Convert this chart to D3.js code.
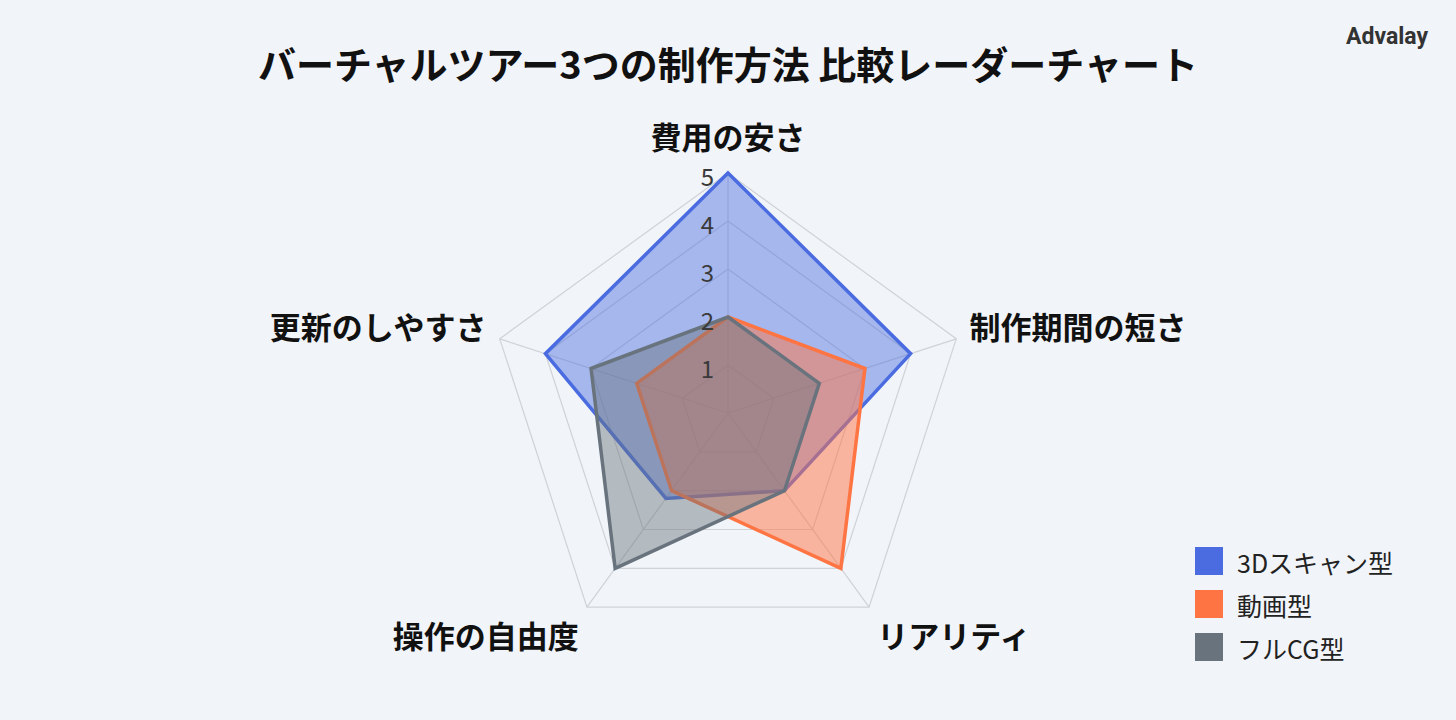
<!DOCTYPE html>
<html>
<head>
<meta charset="utf-8">
<script src="https://cdn.jsdelivr.net/npm/d3@7"></script>
<style>
  html, body { margin: 0; padding: 0; background: #f1f4f8; }
  svg { display: block; font-family: "Noto Sans CJK JP", "Noto Sans", sans-serif; }
</style>
</head>
<body>
<svg id="chart" width="1456" height="720"></svg>
<script>
// chart data
const axes = ["費用の安さ", "制作期間の短さ", "リアリティ", "操作の自由度", "更新のしやすさ"];
const seriesNames = ["3Dスキャン型", "動画型", "フルCG型"];
const scanValues = [5, 4, 2, 2.2, 4];
const videoValues = [2, 3, 4, 2, 2];
const cgValues = [2, 2, 2, 4, 3];
const tickValues = [1, 2, 3, 4, 5];

const series = [
  {name: seriesNames[0], values: scanValues, color: "#4a6ce0", fill: 0.45},
  {name: seriesNames[1], values: videoValues, color: "#ff7443", fill: 0.5},
  {name: seriesNames[2], values: cgValues, color: "#68737d", fill: 0.45}
];

let svg = d3.select("#chart");
let cx = 728, cy = 413, R = 240;

let r = d3.scaleLinear().domain([0, 5]).range([0, R]);
let angle = d3.scalePoint().domain(axes).range([0, 2 * Math.PI * 4 / 5]);

function pt(a, rad) {
  return [Math.sin(a) * rad, -Math.cos(a) * rad];
}

svg.append("text")
    .attr("x", cx).attr("y", 62)
    .attr("text-anchor", "middle")
    .attr("dominant-baseline", "central")
    .attr("font-size", 38).attr("font-weight", 700)
    .attr("fill", "#111")
    .text("バーチャルツアー3つの制作方法 比較レーダーチャート");

svg.append("text")
    .attr("x", 1428).attr("y", 36)
    .attr("text-anchor", "end")
    .attr("dominant-baseline", "central")
    .attr("font-family", "Roboto, 'Noto Sans', sans-serif")
    .attr("font-size", 23).attr("font-weight", 700)
    .attr("fill", "#333")
    .text("Advalay");

let g = svg.append("g").attr("transform", "translate(" + cx + "," + cy + ")");

// grid pentagons
g.selectAll(".grid")
  .data(tickValues)
  .enter().append("polygon")
    .attr("points", d => axes.map(a => pt(angle(a), r(d)).join(",")).join(" "))
    .attr("fill", "none")
    .attr("stroke", "#cfd2d6")
    .attr("stroke-width", 1.2);

// spokes
g.selectAll(".spoke")
  .data(axes)
  .enter().append("line")
    .attr("x2", d => pt(angle(d), r(5))[0])
    .attr("y2", d => pt(angle(d), r(5))[1])
    .attr("stroke", "#cfd2d6")
    .attr("stroke-width", 1.2);

// series polygons
let line = d3.lineRadial()
    .angle((d, i) => angle(axes[i]))
    .radius(d => r(d))
    .curve(d3.curveLinearClosed);

g.selectAll(".area")
  .data(series)
  .enter().append("path")
    .attr("d", d => line(d.values))
    .attr("fill", d => d.color)
    .attr("fill-opacity", d => d.fill)
    .attr("stroke", d => d.color)
    .attr("stroke-width", 3.5)
    .attr("stroke-linejoin", "miter");

// tick labels
g.selectAll(".tick")
  .data(tickValues)
  .enter().append("text")
    .attr("x", -14)
    .attr("y", d => -r(d) + 2)
    .attr("text-anchor", "end")
    .attr("dominant-baseline", "central")
    .attr("font-size", 24)
    .attr("fill", "#3a3a3a")
    .text(d => d);

// axis labels
g.selectAll(".axis-label")
  .data(axes)
  .enter().append("text")
    .attr("x", d => pt(angle(d), R + 14)[0])
    .attr("y", d => pt(angle(d), R + 14)[1] - Math.cos(angle(d)) * 22 - 2)
    .attr("text-anchor", d => {
      let s = Math.sin(angle(d));
      return Math.abs(s) < 0.1 ? "middle" : (s > 0 ? "start" : "end");
    })
    .attr("dominant-baseline", "central")
    .attr("font-size", 31).attr("font-weight", 700)
    .attr("fill", "#111")
    .text(d => d);

// legend
let legend = svg.append("g").attr("transform", "translate(1195,547)");
let row = legend.selectAll(".row")
  .data(series)
  .enter().append("g")
    .attr("transform", (d, i) => "translate(0," + i * 43 + ")");
row.append("rect")
    .attr("width", 28).attr("height", 28)
    .attr("fill", d => d.color);
row.append("text")
    .attr("x", 42).attr("y", 15)
    .attr("dominant-baseline", "central")
    .attr("font-size", 25)
    .attr("fill", "#222")
    .text(d => d.name);
</script>
</body>
</html>
